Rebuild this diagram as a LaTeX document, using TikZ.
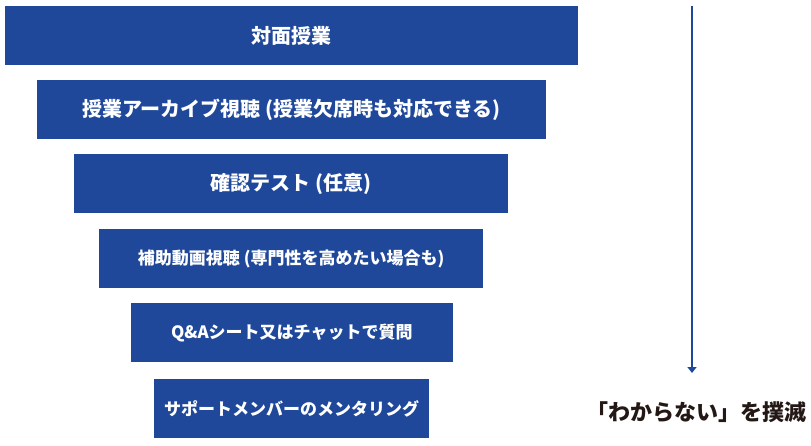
\documentclass[tikz,border=0pt]{standalone}
\usepackage{fontspec}
\setmainfont{Noto Sans CJK JP}
\usetikzlibrary{arrows.meta}
\definecolor{boxblue}{RGB}{31,72,155}
\definecolor{darktext}{RGB}{35,24,21}
\tikzset{
  stage/.style={fill=boxblue, draw=none, text=white, inner sep=0pt, minimum height=59pt, font=\bfseries\fontsize{#1}{#1}\selectfont},
  flowarrow/.style={draw=boxblue, line width=2pt, -{Triangle[width=9pt,length=6pt]}}
}
\begin{document}
\begin{tikzpicture}[x=1pt,y=-1pt]
\useasboundingbox (0,0) rectangle (811,446);
\node[stage=20, minimum width=573pt] (s1) at (291.5,35.5) {対面授業};
\node[stage=20, minimum width=509pt] (s2) at (291.5,109.5) {授業アーカイブ視聴 (授業欠席時も対応できる)};
\node[stage=20, minimum width=433.5pt] (s3) at (291.2,184) {確認テスト (任意)};
\node[stage=17, minimum width=384.3pt] (s4) at (291.2,258.6) {補助動画視聴 (専門性を高めたい場合も)};
\node[stage=17, minimum width=321.7pt] (s5) at (291.8,332.8) {Q\&Aシート又はチャットで質問};
\node[stage=17, minimum width=275.3pt] (s6) at (291.7,408.8) {サポートメンバーのメンタリング};
\coordinate (atop) at (692,6);
\coordinate (abot) at (692,373);
\draw[flowarrow] (atop) -- (abot);
\node[text=darktext, font=\bfseries\fontsize{22}{22}\selectfont, inner sep=0pt] (goal) at (696,412) {「わからない」を撲滅};
\end{tikzpicture}
\end{document}
